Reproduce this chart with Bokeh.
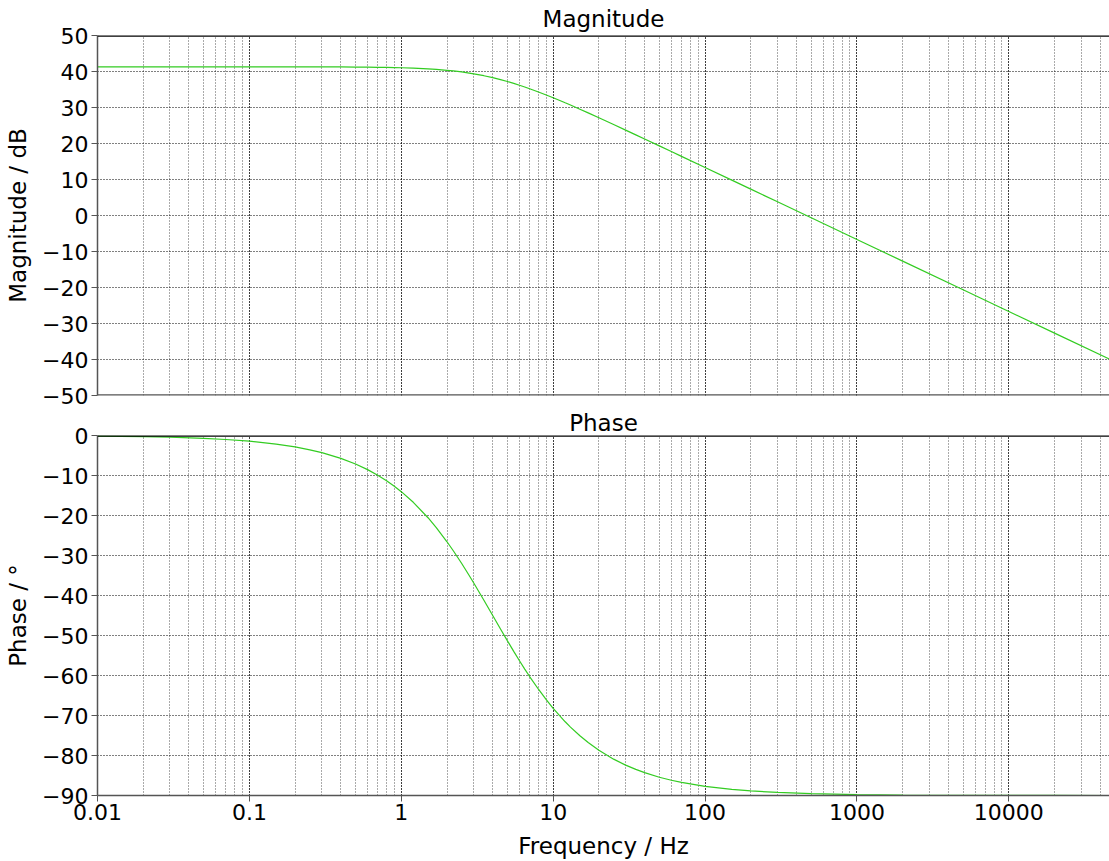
from bokeh.plotting import figure
from bokeh.models import Range1d, FixedTicker, LogTicker, Span
from bokeh.layouts import column
from bokeh.embed import file_html
from bokeh.resources import INLINE

# ---- data ----
freq_hz = [0.01, 0.02, 0.03, 0.05, 0.07, 0.1, 0.15, 0.2, 0.25, 0.3, 0.4, 0.5, 0.6, 0.7, 0.8,
           0.9, 1, 1.2, 1.5, 1.7, 2, 2.2, 2.5, 2.8, 3, 3.5, 4, 4.5, 5, 5.5, 6, 6.5, 7, 8, 9,
           10, 12, 13, 15, 17, 20, 25, 30, 35, 40, 50, 60, 70, 100, 150, 200, 300, 500,
           1000, 2000, 5000, 10000, 20000, 46000]
magnitude_db = [41.30, 41.30, 41.30, 41.30, 41.30, 41.30, 41.29, 41.29, 41.28, 41.28, 41.26,
                41.23, 41.20, 41.17, 41.13, 41.09, 41.04, 40.93, 40.73, 40.58, 40.33, 40.15,
                39.87, 39.57, 39.36, 38.83, 38.29, 37.75, 37.21, 36.69, 36.18, 35.69, 35.21,
                34.31, 33.47, 32.70, 31.30, 30.69, 29.52, 28.50, 27.15, 25.27, 23.72, 22.40,
                21.26, 19.34, 17.76, 16.43, 13.34, 9.82, 7.32, 3.80, -0.64, -6.66, -12.68,
                -20.64, -26.66, -32.68, -39.91]
phase_deg = [-0.14, -0.29, -0.43, -0.72, -1.00, -1.43, -2.15, -2.86, -3.58, -4.29, -5.71,
             -7.13, -8.53, -9.93, -11.31, -12.68, -14.04, -16.70, -20.56, -23.03, -26.57,
             -28.81, -32.01, -34.99, -36.87, -41.19, -45.00, -48.37, -51.34, -53.97, -56.31,
             -58.39, -60.26, -63.43, -66.04, -68.20, -71.57, -72.90, -75.07, -76.76, -78.69,
             -80.91, -82.41, -83.48, -84.29, -85.43, -86.19, -86.73, -87.71, -88.47, -88.85,
             -89.24, -89.54, -89.77, -89.89, -89.95, -89.98, -89.99, -90.00]

x_ticks = [0.01, 0.1, 1, 10, 100, 1000, 10000]
x_tick_labels = ["0.01", "0.1", "1", "10", "100", "1000", "10000"]
mag_ticks = [-50, -40, -30, -20, -10, 0, 10, 20, 30, 40, 50]
mag_tick_labels = ["\u221250", "\u221240", "\u221230", "\u221220", "\u221210", "0",
                   "10", "20", "30", "40", "50"]
phase_ticks = [-90, -80, -70, -60, -50, -40, -30, -20, -10, 0]
phase_tick_labels = ["\u221290", "\u221280", "\u221270", "\u221260", "\u221250",
                     "\u221240", "\u221230", "\u221220", "\u221210", "0"]

FONT = "DejaVu Sans"
FS_TICK = "22px"
FS_LABEL = "23px"
LINE_COLOR = "#33cc22"


def style(p, yticks, ylabels, ytop):
    p.title.text_font = FONT
    p.title.text_font_size = FS_LABEL
    p.title.text_font_style = "normal"
    p.title.text_color = "black"
    p.title.align = "center"
    p.outline_line_color = None
    p.min_border_left = 97
    p.min_border_right = 0
    p.add_layout(Span(location=ytop, dimension="width", line_color="black", line_width=2.5))

    p.yaxis.ticker = FixedTicker(ticks=yticks)
    p.yaxis.major_label_overrides = {t: l for t, l in zip(yticks, ylabels)}
    p.yaxis.minor_tick_line_color = None
    p.yaxis.major_tick_in = 0
    p.yaxis.major_tick_out = 6
    p.yaxis.axis_line_color = "#555555"
    p.yaxis.axis_line_width = 1.5
    p.yaxis.major_tick_line_color = "#555555"
    p.yaxis.major_label_text_font = FONT
    p.yaxis.major_label_text_font_size = FS_TICK
    p.yaxis.major_label_text_color = "black"
    p.yaxis.major_label_standoff = 3
    p.yaxis.axis_label_text_font = FONT
    p.yaxis.axis_label_text_font_size = FS_LABEL
    p.yaxis.axis_label_text_font_style = "normal"
    p.yaxis.axis_label_text_color = "black"
    p.yaxis.axis_label_standoff = 8

    p.xgrid.ticker = LogTicker(num_minor_ticks=10)
    p.xgrid.grid_line_color = "black"
    p.xgrid.grid_line_dash = "1 2"
    p.xgrid.grid_line_width = 1
    p.xgrid.minor_grid_line_color = "#555555"
    p.xgrid.minor_grid_line_dash = "1 2"
    p.xgrid.minor_grid_line_width = 1
    p.ygrid.grid_line_color = "black"
    p.ygrid.grid_line_dash = "1 2"
    p.ygrid.grid_line_width = 1


x_start, x_end = 0.01, 46000

p1 = figure(width=1109, height=407, x_axis_type="log",
            x_range=Range1d(x_start, x_end), y_range=Range1d(-50, 50),
            title="Magnitude", output_backend="svg", toolbar_location=None,
            y_axis_label="Magnitude / dB")
style(p1, mag_ticks, mag_tick_labels, 50)
p1.add_layout(Span(location=-50, dimension="width", line_color="#555555", line_width=2.5))
p1.title.standoff = 7
p1.xaxis.visible = False
p1.min_border_bottom = 12
p1.line(freq_hz, magnitude_db, line_color=LINE_COLOR, line_width=1.2)

p2 = figure(width=1109, height=454, x_axis_type="log",
            x_range=p1.x_range, y_range=Range1d(-90, 0),
            title="Phase", output_backend="svg", toolbar_location=None,
            y_axis_label="Phase / \u00b0", x_axis_label="Frequency / Hz")
style(p2, phase_ticks, phase_tick_labels, 0)
p2.title.standoff = 0
p2.xaxis.ticker = FixedTicker(ticks=x_ticks)
p2.xaxis.major_label_overrides = {t: l for t, l in zip(x_ticks, x_tick_labels)}
p2.xaxis.minor_tick_line_color = None
p2.xaxis.major_tick_in = 0
p2.xaxis.major_tick_out = 6
p2.xaxis.axis_line_color = "#555555"
p2.xaxis.axis_line_width = 1.5
p2.xaxis.major_tick_line_color = "#555555"
p2.xaxis.major_label_text_font = FONT
p2.xaxis.major_label_text_font_size = FS_TICK
p2.xaxis.major_label_text_color = "black"
p2.xaxis.major_label_standoff = 2
p2.xaxis.axis_label_text_font = FONT
p2.xaxis.axis_label_text_font_size = FS_LABEL
p2.xaxis.axis_label_text_font_style = "normal"
p2.xaxis.axis_label_text_color = "black"
p2.xaxis.axis_label_standoff = 10
p2.line(freq_hz, phase_deg, line_color=LINE_COLOR, line_width=1.2)

layout = column(p1, p2, spacing=0)
open("out.html", "w").write(file_html(layout, INLINE))
